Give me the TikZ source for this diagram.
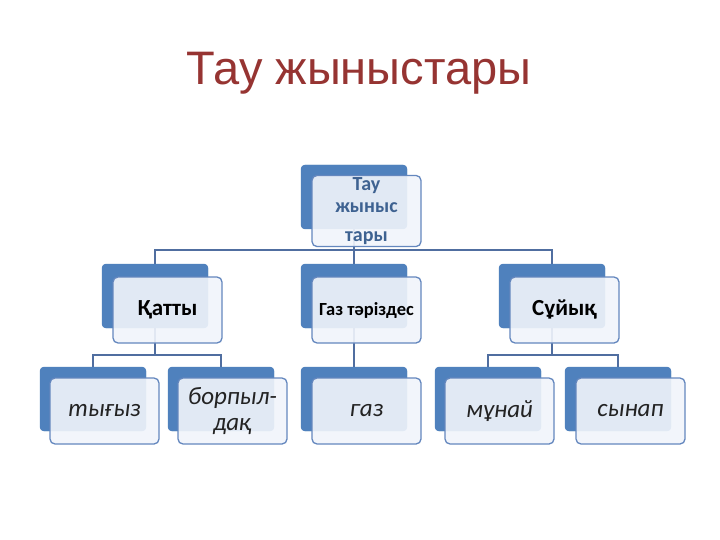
\documentclass[tikz,border=0pt]{standalone}
\usepackage{fontspec}
\setmainfont{Carlito}
\newfontfamily\titlefont{Liberation Sans}
\definecolor{boxblue}{RGB}{79,129,189}
\definecolor{frontfill}{RGB}{241,245,251}
\definecolor{frontedge}{RGB}{100,135,190}
\definecolor{connc}{RGB}{80,110,160}
\definecolor{titlered}{RGB}{150,52,50}
\definecolor{toptext}{RGB}{62,98,145}
\definecolor{leaftext}{RGB}{35,35,35}
\tikzset{
  backbox/.style={fill=boxblue, draw=none, rounded corners=4pt, minimum width=106pt, minimum height=64pt, inner sep=0pt},
  frontbox/.style={fill=frontfill, fill opacity=0.9, text opacity=1, draw=frontedge, line width=1.3pt, rounded corners=5pt, minimum width=109pt, minimum height=66pt, inner sep=2pt, align=center},
  conn/.style={draw=connc, line width=1.1pt},
  midtext/.style={font=\fontsize{23}{26}\selectfont\bfseries, text=black},
  leaftxt/.style={font=\fontsize{25}{26}\selectfont\itshape, text=leaftext},
}
\begin{document}
\begin{tikzpicture}[x=1pt,y=-1pt]
\useasboundingbox (0,0) rectangle (720,540);
\fill[white] (0,0) rectangle (720,540);

\node[font=\titlefont\fontsize{47}{50}\selectfont, text=titlered, anchor=base] (title) at (359,85) {Тау жыныстары};

% back boxes
\node[backbox] (tb) at (354,197) {};
\node[backbox] (k1) at (155,296) {};
\node[backbox] (k2) at (354,296) {};
\node[backbox] (k3) at (552,296) {};
\node[backbox] (l1) at (93,399) {};
\node[backbox] (l2) at (221,399) {};
\node[backbox] (l3) at (354,399) {};
\node[backbox] (l4) at (488,399) {};
\node[backbox] (l5) at (618,399) {};

% junction coordinates
\coordinate (j0) at (354,250);
\coordinate (j1) at (155,355);
\coordinate (j3) at (552,355);

% connectors
\draw[conn] (tb.center) -- (j0);
\draw[conn] (j0) -| (k1.north);
\draw[conn] (j0) -- (k2.north);
\draw[conn] (j0) -| (k3.north);
\draw[conn] (k1.center) -- (j1);
\draw[conn] (j1) -| (l1.north);
\draw[conn] (j1) -| (l2.north);
\draw[conn] (k2.center) -- (l3.north);
\draw[conn] (k3.center) -- (j3);
\draw[conn] (j3) -| (l4.north);
\draw[conn] (j3) -| (l5.north);

% redraw back boxes over connectors
\foreach \n in {tb,k1,k2,k3,l1,l2,l3,l4,l5}{
  \fill[boxblue, rounded corners=4pt] (\n.north west) rectangle (\n.south east);
}

% front boxes
\node[frontbox, font=\fontsize{20}{22}\selectfont\bfseries, text=toptext] (tf) at (366.5,211) {Тау\\жыныс\\[7pt]тары};
\node[frontbox, midtext] (f1) at (167.5,310) {Қатты};
\node[frontbox, font=\fontsize{18.5}{20}\selectfont\bfseries, text=black] (f2) at (366.5,310) {Газ тәріздес};
\node[frontbox, midtext] (f3) at (564.5,310) {Сұйық};
\node[frontbox, leaftxt] (g1) at (104.5,411) {тығыз};
\node[frontbox, leaftxt] (g2) at (232.5,411) {борпыл-\\дақ};
\node[frontbox, leaftxt] (g3) at (366.5,411) {газ};
\node[frontbox, leaftxt] (g4) at (499.5,411) {мұнай};
\node[frontbox, leaftxt] (g5) at (630.5,411) {сынап};
\end{tikzpicture}
\end{document}
